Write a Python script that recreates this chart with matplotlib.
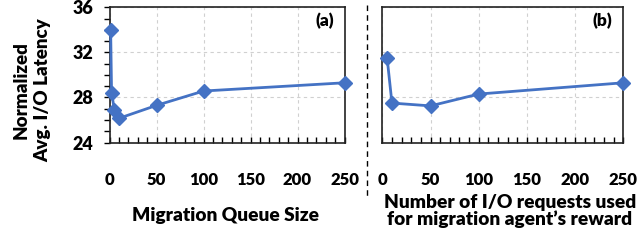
import matplotlib.pyplot as plt
from matplotlib.lines import Line2D
from matplotlib.ticker import MultipleLocator

# panel (a): migration queue size
queue_size = [1, 2, 5, 10, 50, 100, 250]
latency_a = [34.0, 28.4, 26.9, 26.15, 27.3, 28.57, 29.3]

# panel (b): number of I/O requests used for reward
num_requests = [5, 10, 50, 100, 250]
latency_b = [31.5, 27.5, 27.25, 28.3, 29.3]

blue = "#4472C4"
wt = "heavy"
plt.rcParams["font.family"] = ["Lato", "DejaVu Sans"]
plt.rcParams["font.weight"] = wt

fig = plt.figure(figsize=(6.41, 2.46), dpi=100)
W, H = 641, 246
ax1 = fig.add_axes([109.7 / W, 1 - 142.5 / H, (344.5 - 109.7) / W, (142.5 - 7.3) / H])
ax2 = fig.add_axes([382.3 / W, 1 - 142.5 / H, (623.3 - 382.3) / W, (142.5 - 7.3) / H])

for ax, xs, ys, tag in [(ax1, queue_size, latency_a, "(a)"), (ax2, num_requests, latency_b, "(b)")]:
    ax.plot(xs, ys, color=blue, lw=2, marker="D", ms=7, clip_on=False, zorder=3)
    ax.set_xlim(0, 250)
    ax.set_ylim(24, 36)
    ax.xaxis.set_major_locator(MultipleLocator(50))
    ax.xaxis.set_minor_locator(MultipleLocator(10))
    ax.yaxis.set_major_locator(MultipleLocator(4))
    ax.yaxis.set_minor_locator(MultipleLocator(1))
    ax.grid(True, which="major", color="#d0d0d0", ls=(0, (3, 3)), lw=0.8)
    ax.tick_params(axis="x", which="both", direction="in", length=4, width=1, pad=21.5, labelsize=12)
    for s in ax.spines.values():
        s.set_linewidth(1.2)
        s.set_color("#222222")
    ax.text(0.955, 0.9, tag, transform=ax.transAxes, ha="right", va="center",
            fontsize=12.5, fontweight=wt)

ax1.tick_params(axis="y", which="both", direction="out", length=4, width=1, pad=8, labelsize=13)
ax2.tick_params(axis="y", which="both", left=False, labelleft=False)
for lbl in ax1.get_xticklabels() + ax1.get_yticklabels() + ax2.get_xticklabels():
    lbl.set_fontweight(wt)

fig.text(32 / W, 1 - 90 / H, "Normalized\nAvg. I/O Latency", rotation=90, ha="center", va="center",
         fontsize=13.5, fontweight=wt, linespacing=1.3)
fig.text(226 / W, 1 - 216 / H, "Migration Queue Size", ha="center", va="center",
         fontsize=13.8, fontweight=wt)
fig.text(510 / W, 1 - 211 / H, "Number of I/O requests used\nfor migration agent\u2019s reward",
         ha="center", va="center", fontsize=13.8, fontweight=wt, linespacing=1.0)

fig.add_artist(Line2D([366.7 / W, 366.7 / W], [1 - 5 / H, 1 - 198 / H], transform=fig.transFigure,
                      color="black", lw=1, ls=(0, (4, 3))))

fig.savefig("out.png", dpi=100)
